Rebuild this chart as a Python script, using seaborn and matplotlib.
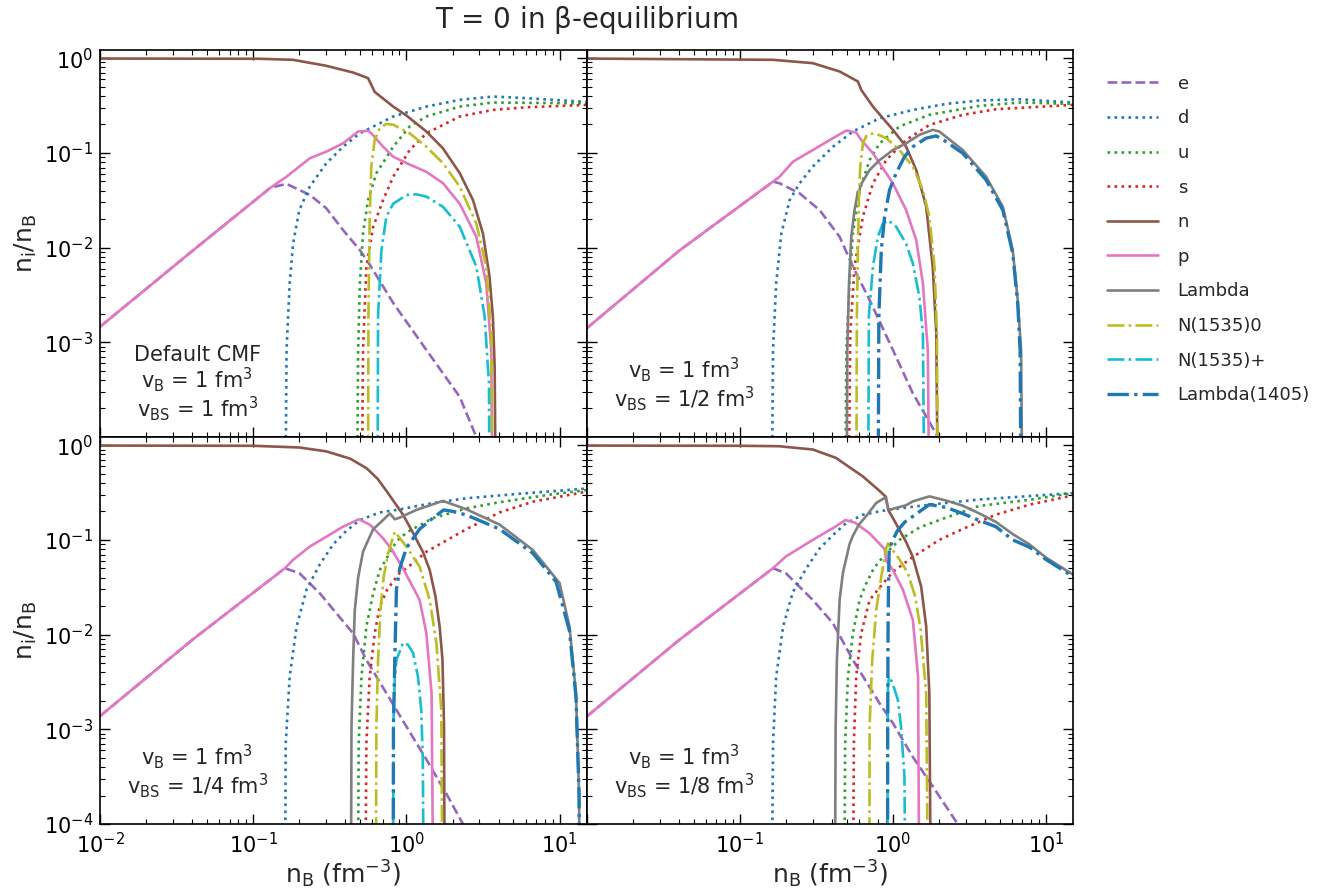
import matplotlib
matplotlib.use("Agg")
import matplotlib.pyplot as plt
from matplotlib.lines import Line2D
import pandas as pd
import seaborn as sns

# ---------------- data: (n_B [fm^-3], n_i/n_B) ----------------
# Panel 1: Default CMF (vB = 1, vBS = 1)
p1_e = ([0.01, 0.04, 0.13, 0.165, 0.234, 0.30, 0.386, 0.497, 0.58, 0.82, 1.35, 2.23, 2.86, 3.2],
        [0.00146, 0.0092, 0.043, 0.047, 0.036, 0.026, 0.0153, 0.0094, 0.0065, 0.0026, 0.00083, 0.000265, 0.0001, 0.00005])
p1_d = ([0.160, 0.165, 0.173, 0.182, 0.20, 0.234, 0.30, 0.386, 0.497, 0.82, 1.35, 2.23, 3.67, 6.06, 15],
        [1e-6, 0.00083, 0.0042, 0.011, 0.0249, 0.044, 0.0776, 0.116, 0.161, 0.242, 0.308, 0.363, 0.393, 0.378, 0.345])
p1_u = ([0.470, 0.484, 0.497, 0.521, 0.562, 0.637, 0.82, 1.05, 1.35, 2.23, 3.67, 15],
        [1e-6, 0.00083, 0.0042, 0.0141, 0.0318, 0.061, 0.116, 0.19, 0.242, 0.308, 0.34, 0.333])
p1_s = ([0.505, 0.521, 0.548, 0.607, 0.705, 0.82, 1.05, 1.35, 2.23, 3.67, 6.06, 15],
        [1e-6, 0.00083, 0.0063, 0.0166, 0.0318, 0.056, 0.107, 0.161, 0.242, 0.284, 0.303, 0.321])
p1_n = ([0.01, 0.11, 0.182, 0.30, 0.449, 0.562, 0.591, 0.621, 0.82, 1.0, 1.35, 1.73, 2.23, 2.72, 3.16, 3.49, 3.67, 3.77, 3.88],
        [0.99, 0.985, 0.96, 0.83, 0.705, 0.615, 0.52, 0.44, 0.308, 0.248, 0.168, 0.112, 0.061, 0.0318, 0.0141, 0.0049, 0.00186, 0.00055, 1e-6])
p1_p = ([0.01, 0.04, 0.13, 0.165, 0.234, 0.30, 0.386, 0.484, 0.562, 0.59, 0.705, 0.82, 1.0, 1.35, 1.73, 2.23, 2.86, 3.32, 3.58, 3.7],
        [0.00146, 0.0092, 0.043, 0.056, 0.0877, 0.103, 0.126, 0.168, 0.171, 0.161, 0.116, 0.091, 0.078, 0.063, 0.048, 0.029, 0.013, 0.0042, 0.00083, 1e-6])
p1_N0 = ([0.560, 0.565, 0.576, 0.59, 0.621, 0.67, 0.74, 0.82, 1.05, 1.35, 1.73, 2.23, 2.86, 3.32, 3.58, 3.7],
         [1e-6, 0.0019, 0.0212, 0.0716, 0.137, 0.182, 0.202, 0.198, 0.161, 0.116, 0.078, 0.044, 0.018, 0.0063, 0.00124, 1e-6])
p1_Np = ([0.645, 0.653, 0.687, 0.74, 0.82, 1.0, 1.16, 1.35, 1.73, 2.23, 2.86, 3.24, 3.46, 3.52],
         [1e-6, 0.0019, 0.0094, 0.0212, 0.029, 0.0359, 0.0365, 0.0345, 0.027, 0.0166, 0.0063, 0.0019, 0.000366, 1e-6])

# Panel 2: vB = 1, vBS = 1/2
p2_e = ([0.01, 0.04, 0.165, 0.182, 0.246, 0.332, 0.449, 0.548, 0.705, 1.0, 1.35, 1.97, 2.1],
        [0.0014, 0.0092, 0.0497, 0.0477, 0.0374, 0.0249, 0.013, 0.0063, 0.00279, 0.00083, 0.000289, 0.0001, 0.00005])
p2_d = ([0.160, 0.165, 0.173, 0.187, 0.212, 0.246, 0.30, 0.406, 0.548, 0.82, 1.35, 2.23, 3.67, 6.7, 15],
        [1e-6, 0.00083, 0.0042, 0.0141, 0.0318, 0.0477, 0.0716, 0.116, 0.168, 0.232, 0.284, 0.329, 0.357, 0.368, 0.34])
p2_u = ([0.480, 0.497, 0.521, 0.548, 0.607, 0.705, 0.82, 1.105, 1.73, 3.67, 6.7, 15],
        [1e-6, 0.00083, 0.0042, 0.0141, 0.0405, 0.084, 0.126, 0.19, 0.252, 0.313, 0.34, 0.329])
p2_s = ([0.505, 0.527, 0.562, 0.637, 0.741, 0.905, 1.22, 1.73, 2.86, 4.72, 15],
        [1e-6, 0.00124, 0.0063, 0.0212, 0.0477, 0.084, 0.137, 0.197, 0.252, 0.289, 0.321])
p2_n = ([0.01, 0.165, 0.30, 0.449, 0.591, 0.621, 0.741, 1.0, 1.22, 1.42, 1.65, 1.82, 1.92, 2.0],
        [0.99, 0.96, 0.885, 0.723, 0.567, 0.463, 0.308, 0.175, 0.116, 0.066, 0.027, 0.0063, 0.00124, 1e-6])
p2_p = ([0.01, 0.04, 0.165, 0.182, 0.223, 0.30, 0.406, 0.497, 0.576, 0.621, 0.741, 1.0, 1.22, 1.42, 1.57, 1.69, 1.76],
        [0.0014, 0.0092, 0.0497, 0.056, 0.0808, 0.107, 0.143, 0.172, 0.164, 0.137, 0.099, 0.0477, 0.0249, 0.012, 0.0042, 0.00083, 1e-6])
p2_L = ([0.495, 0.504, 0.517, 0.535, 0.562, 0.591, 0.60, 0.612, 0.705, 0.82, 1.0, 1.22, 1.49, 1.82, 2.01, 2.86, 4.06, 5.22, 6.06, 6.53, 6.87, 7.1],
        [1e-6, 0.00083, 0.0042, 0.013, 0.0249, 0.039, 0.036, 0.045, 0.066, 0.084, 0.107, 0.126, 0.155, 0.175, 0.168, 0.107, 0.056, 0.027, 0.0094, 0.00279, 0.00083, 1e-6])
p2_N0 = ([0.574, 0.582, 0.591, 0.60, 0.612, 0.637, 0.677, 0.76, 0.905, 1.105, 1.35, 1.57, 1.73, 1.87, 1.94, 1.98],
         [1e-6, 0.0019, 0.0094, 0.0318, 0.0716, 0.126, 0.155, 0.161, 0.143, 0.107, 0.0716, 0.0405, 0.0212, 0.0063, 0.00124, 1e-6])
p2_Np = ([0.685, 0.697, 0.741, 0.798, 0.861, 0.928, 1.05, 1.22, 1.35, 1.49, 1.57, 1.63],
         [1e-6, 0.0019, 0.0063, 0.013, 0.018, 0.0195, 0.0166, 0.011, 0.0068, 0.003, 0.00124, 1e-6])
p2_L1405 = ([0.795, 0.81, 0.84, 0.883, 0.951, 1.05, 1.19, 1.35, 1.65, 1.92, 2.23, 2.86, 4.06, 5.22, 6.06, 6.53, 6.77, 6.95],
            [1e-6, 0.0019, 0.0094, 0.0212, 0.0405, 0.061, 0.091, 0.116, 0.143, 0.151, 0.131, 0.099, 0.0517, 0.0249, 0.0087, 0.00258, 0.00083, 1e-6])

# Panel 3: vB = 1, vBS = 1/4
p3_e = ([0.01, 0.04, 0.161, 0.20, 0.272, 0.349, 0.449, 0.548, 0.741, 1.0, 1.35, 1.82, 2.34, 2.6],
        [0.00138, 0.0088, 0.0502, 0.0445, 0.0273, 0.0168, 0.0103, 0.0054, 0.0024, 0.00107, 0.00048, 0.00021, 0.0001, 0.00006])
p3_d = ([0.160, 0.163, 0.173, 0.192, 0.223, 0.272, 0.333, 0.406, 0.497, 0.67, 0.906, 1.49, 2.47, 5.22, 15],
        [1e-6, 0.00071, 0.0036, 0.0122, 0.03, 0.055, 0.09, 0.125, 0.162, 0.195, 0.21, 0.245, 0.275, 0.305, 0.348])
p3_u = ([0.478, 0.488, 0.509, 0.548, 0.607, 0.67, 0.705, 0.82, 0.906, 1.05, 1.49, 2.47, 4.06, 8.6, 15],
        [1e-6, 0.00071, 0.0036, 0.0122, 0.0273, 0.048, 0.055, 0.085, 0.105, 0.125, 0.17, 0.215, 0.25, 0.3, 0.336])
p3_s = ([0.532, 0.548, 0.576, 0.621, 0.67, 0.75, 0.906, 1.0, 1.35, 2.47, 4.06, 6.7, 15],
        [1e-6, 0.00071, 0.0036, 0.0103, 0.0198, 0.03, 0.045, 0.05, 0.075, 0.13, 0.195, 0.253, 0.323])
p3_n = ([0.01, 0.1, 0.2, 0.3, 0.43, 0.55, 0.65, 0.75, 0.82, 0.95, 1.1, 1.28, 1.42, 1.55, 1.65, 1.72, 1.76, 1.79],
        [0.99, 0.985, 0.945, 0.86, 0.72, 0.57, 0.44, 0.32, 0.26, 0.185, 0.12, 0.075, 0.048, 0.025, 0.012, 0.0054, 0.0011, 1e-6])
p3_p = ([0.01, 0.04, 0.161, 0.182, 0.234, 0.30, 0.386, 0.49, 0.58, 0.70, 0.80, 0.95, 1.1, 1.22, 1.35, 1.46, 1.52],
        [0.00138, 0.0088, 0.0502, 0.0615, 0.085, 0.108, 0.138, 0.165, 0.144, 0.105, 0.08, 0.05, 0.032, 0.0232, 0.0103, 0.0024, 1e-6])
p3_L = ([0.432, 0.438, 0.449, 0.46, 0.484, 0.521, 0.548, 0.607, 0.67, 0.78, 0.84, 0.906, 1.16, 1.73, 2.47, 4.06, 6.7, 10, 11.6, 12.8, 13.4, 13.7],
        [1e-6, 0.00107, 0.0054, 0.018, 0.04, 0.075, 0.09, 0.13, 0.15, 0.19, 0.165, 0.172, 0.207, 0.258, 0.21, 0.145, 0.078, 0.035, 0.0122, 0.0024, 0.00021, 1e-6])
p3_N0 = ([0.628, 0.637, 0.653, 0.677, 0.711, 0.76, 0.819, 0.84, 1.0, 1.22, 1.42, 1.57, 1.69, 1.74],
         [1e-6, 0.00107, 0.0054, 0.018, 0.041, 0.072, 0.108, 0.122, 0.085, 0.052, 0.0232, 0.0081, 0.0016, 1e-6])
p3_Np = ([0.817, 0.823, 0.84, 0.861, 0.951, 1.025, 1.105, 1.19, 1.25, 1.28, 1.31],
         [1e-6, 0.0012, 0.0036, 0.0054, 0.0082, 0.0078, 0.0064, 0.0036, 0.0016, 0.00048, 1e-6])
p3_L1405 = ([0.817, 0.823, 0.84, 0.861, 0.905, 1.0, 1.22, 1.49, 1.75, 2.01, 2.47, 4.06, 6.7, 9.5, 11.6, 12.8, 13.4, 13.7],
            [1e-6, 0.00107, 0.0054, 0.03, 0.05, 0.082, 0.13, 0.17, 0.207, 0.2, 0.183, 0.13, 0.072, 0.036, 0.011, 0.0022, 0.00021, 1e-6])

# Panel 4: vB = 1, vBS = 1/8
p4_e = ([0.01, 0.04, 0.165, 0.2, 0.3, 0.406, 0.548, 0.819, 1.0, 1.35, 1.82, 2.65, 2.9],
        [0.00136, 0.0087, 0.0502, 0.0445, 0.0232, 0.0132, 0.0054, 0.00188, 0.00116, 0.00051, 0.00025, 0.0001, 0.00006])
p4_d = ([0.160, 0.165, 0.173, 0.192, 0.222, 0.272, 0.33, 0.40, 0.494, 0.637, 0.815, 1.0, 1.73, 3.66, 7.78, 15],
        [1e-6, 0.0007, 0.0036, 0.0122, 0.028, 0.05, 0.08, 0.11, 0.15, 0.184, 0.2, 0.211, 0.235, 0.267, 0.29, 0.312])
p4_u = ([0.476, 0.488, 0.509, 0.548, 0.607, 0.66, 0.75, 0.9, 1.105, 1.49, 1.73, 2.23, 3.66, 7.78, 15],
        [1e-6, 0.0007, 0.0036, 0.0103, 0.0232, 0.033, 0.05, 0.072, 0.1, 0.135, 0.148, 0.172, 0.228, 0.265, 0.312])
p4_s = ([0.545, 0.556, 0.576, 0.621, 0.705, 0.815, 1.0, 1.35, 2.01, 2.85, 4.72, 7.78, 15],
        [1e-6, 0.0007, 0.0036, 0.0103, 0.0232, 0.031, 0.046, 0.066, 0.1, 0.13, 0.185, 0.235, 0.295])
p4_n = ([0.01, 0.1, 0.18, 0.30, 0.425, 0.634, 0.80, 0.90, 0.935, 1.0, 1.22, 1.35, 1.53, 1.65, 1.73, 1.79],
        [0.99, 0.985, 0.975, 0.90, 0.734, 0.47, 0.34, 0.285, 0.205, 0.17, 0.095, 0.066, 0.032, 0.0122, 0.0024, 1e-6])
p4_p = ([0.01, 0.04, 0.165, 0.20, 0.30, 0.406, 0.49, 0.565, 0.705, 0.883, 0.905, 1.0, 1.16, 1.35, 1.46, 1.5],
        [0.00136, 0.0087, 0.0502, 0.0667, 0.1, 0.133, 0.162, 0.152, 0.117, 0.08, 0.06, 0.048, 0.03, 0.0143, 0.0036, 1e-6])
p4_L = ([0.415, 0.423, 0.431, 0.449, 0.472, 0.494, 0.521, 0.546, 0.60, 0.667, 0.778, 0.89, 0.905, 0.93, 0.96, 1.0, 1.22, 1.35, 1.73, 2.23, 2.85, 3.67, 4.7, 6.06, 7.76, 10, 15],
        [1e-6, 0.00107, 0.0054, 0.0232, 0.045, 0.062, 0.09, 0.109, 0.145, 0.177, 0.245, 0.28, 0.26, 0.215, 0.208, 0.213, 0.232, 0.255, 0.288, 0.26, 0.23, 0.19, 0.155, 0.115, 0.09, 0.065, 0.043])
p4_N0 = ([0.70, 0.705, 0.733, 0.778, 0.84, 0.905, 0.93, 0.96, 1.105, 1.25, 1.4, 1.52, 1.65, 1.72],
         [1e-6, 0.0011, 0.0054, 0.018, 0.041, 0.0817, 0.092, 0.085, 0.062, 0.045, 0.025, 0.011, 0.0024, 1e-6])
p4_Np = ([0.92, 0.925, 0.93, 0.945, 0.96, 1.0, 1.078, 1.13, 1.19, 1.22],
         [1e-6, 0.0011, 0.003, 0.0036, 0.0035, 0.003, 0.00204, 0.00107, 0.00032, 1e-6])
p4_L1405 = ([0.922, 0.925, 0.93, 0.937, 0.945, 0.96, 1.0, 1.07, 1.2, 1.35, 1.73, 2.23, 2.85, 3.67, 4.7, 6.06, 7.76, 10, 15],
            [1e-6, 0.0011, 0.012, 0.035, 0.075, 0.085, 0.1, 0.125, 0.155, 0.177, 0.236, 0.22, 0.19, 0.16, 0.138, 0.1, 0.084, 0.062, 0.041])

SPECIES = ["e", "d", "u", "s", "n", "p", "Lambda", "N(1535)0", "N(1535)+", "Lambda(1405)"]
PANEL_TEXT = [
    "Default CMF\n" + r"v$_\mathrm{B}$ = 1 fm$^3$" + "\n" + r"v$_\mathrm{BS}$ = 1 fm$^3$",
    r"v$_\mathrm{B}$ = 1 fm$^3$" + "\n" + r"v$_\mathrm{BS}$ = 1/2 fm$^3$",
    r"v$_\mathrm{B}$ = 1 fm$^3$" + "\n" + r"v$_\mathrm{BS}$ = 1/4 fm$^3$",
    r"v$_\mathrm{B}$ = 1 fm$^3$" + "\n" + r"v$_\mathrm{BS}$ = 1/8 fm$^3$",
]
TITLE = r"T = 0 in $\beta$-equilibrium"

panels = [
    {"e": p1_e, "d": p1_d, "u": p1_u, "s": p1_s, "n": p1_n, "p": p1_p,
     "N(1535)0": p1_N0, "N(1535)+": p1_Np},
    {"e": p2_e, "d": p2_d, "u": p2_u, "s": p2_s, "n": p2_n, "p": p2_p, "Lambda": p2_L,
     "N(1535)0": p2_N0, "N(1535)+": p2_Np, "Lambda(1405)": p2_L1405},
    {"e": p3_e, "d": p3_d, "u": p3_u, "s": p3_s, "n": p3_n, "p": p3_p, "Lambda": p3_L,
     "N(1535)0": p3_N0, "N(1535)+": p3_Np, "Lambda(1405)": p3_L1405},
    {"e": p4_e, "d": p4_d, "u": p4_u, "s": p4_s, "n": p4_n, "p": p4_p, "Lambda": p4_L,
     "N(1535)0": p4_N0, "N(1535)+": p4_Np, "Lambda(1405)": p4_L1405},
]

# ---------------- styles ----------------
COLORS = {"e": "#9467bd", "d": "#1f77b4", "u": "#2ca02c", "s": "#d62728", "n": "#8c564b",
          "p": "#e377c2", "Lambda": "#7f7f7f", "N(1535)0": "#bcbd22", "N(1535)+": "#17becf",
          "Lambda(1405)": "#1f77b4"}
DOT = (1, 1.65)
DASHDOT = (6.4, 1.6, 1, 1.6)
DASHES = {"e": (3.7, 1.6), "d": DOT, "u": DOT, "s": DOT, "n": "", "p": "", "Lambda": "",
          "N(1535)0": DASHDOT, "N(1535)+": DASHDOT, "Lambda(1405)": DASHDOT}
WIDTHS = {k: 1.9 for k in SPECIES}
WIDTHS["Lambda(1405)"] = 2.4

sns.set_style("ticks")
plt.rcParams["font.family"] = ["DejaVu Sans"]
plt.rcParams["mathtext.default"] = "regular"

fig, axes = plt.subplots(2, 2, figsize=(13.2, 8.89), dpi=100)
fig.subplots_adjust(left=0.0758, right=0.8129, top=0.9438, bottom=0.0731, wspace=0, hspace=0)

ylabels_top = ["", r"$10^{-3}$", r"$10^{-2}$", r"$10^{-1}$", r"$10^{0}$"]
ylabels_bot = [r"$10^{-4}$", r"$10^{-3}$", r"$10^{-2}$", r"$10^{-1}$", r"$10^{0}$"]
yt = [1e-4, 1e-3, 1e-2, 1e-1, 1e0]
xt = [1e-2, 1e-1, 1e0, 1e1]

for i, ax in enumerate(axes.flat):
    data = panels[i]
    rows = []
    order = [s for s in SPECIES if s in data]
    for sp in order:
        xs, ys = data[sp]
        for xv, yv in zip(xs, ys):
            rows.append({"nB": xv, "frac": yv, "species": sp})
    df = pd.DataFrame(rows)
    sns.lineplot(data=df, x="nB", y="frac", hue="species", style="species", size="species",
                 hue_order=order, style_order=order, size_order=order,
                 palette=COLORS, dashes=DASHES, sizes=WIDTHS,
                 estimator=None, sort=False, legend=False, ax=ax)
    ax.set_xscale("log")
    ax.set_yscale("log")
    ax.set_xlabel("")
    ax.set_ylabel("")
    row, col = divmod(i, 2)
    ax.set_yticks(yt)
    ax.set_yticklabels(ylabels_top if row == 0 else ylabels_bot)
    ax.set_xticks(xt)
    if col == 0:
        ax.set_xticklabels([r"$10^{-2}$", r"$10^{-1}$", r"$10^{0}$", r"$10^{1}$"])
    else:
        ax.set_xticklabels(["", r"$10^{-1}$", r"$10^{0}$", r"$10^{1}$"])
    ax.set_xlim(1e-2, 15)
    ax.set_ylim(1e-4, 1.22)
    ax.tick_params(which="both", direction="in", top=True, right=True, colors="black")
    ax.tick_params(which="major", length=7, width=1.0, labelsize=15)
    ax.tick_params(axis="x", which="major", pad=6)
    ax.tick_params(axis="y", which="major", pad=5)
    ax.tick_params(which="minor", length=3.5, width=0.8)
    ax.tick_params(labelbottom=(row == 1), labelleft=(col == 0))
    for sp in ax.spines.values():
        sp.set_color("black")
        sp.set_linewidth(1.2)
    ax.text(0.2, 0.137, PANEL_TEXT[i], transform=ax.transAxes, ha="center", va="center",
            fontsize=15, linespacing=1.0, multialignment="center")

fig.suptitle(TITLE, x=0.444, y=0.977, va="center", fontsize=20)
for yc in (0.726, 0.291):
    fig.text(0.0197, yc, r"n$_\mathrm{i}$/n$_\mathrm{B}$", rotation=90, ha="center", va="center", fontsize=18)
for xc in (0.26, 0.629):
    fig.text(xc, 0.017, r"n$_\mathrm{B}$ (fm$^{-3}$)", ha="center", va="center", fontsize=18)

handles = []
for sp in SPECIES:
    ls = "-" if DASHES[sp] == "" else (0, DASHES[sp])
    handles.append(Line2D([0], [0], color=COLORS[sp], lw=WIDTHS[sp], linestyle=ls))
fig.legend(handles, SPECIES, loc="center left", bbox_to_anchor=(0.8333, 0.7306),
           frameon=False, fontsize=13, handlelength=2.8, handletextpad=1.1,
           labelspacing=0.92, borderaxespad=0)

fig.savefig("out.png", dpi=100)
